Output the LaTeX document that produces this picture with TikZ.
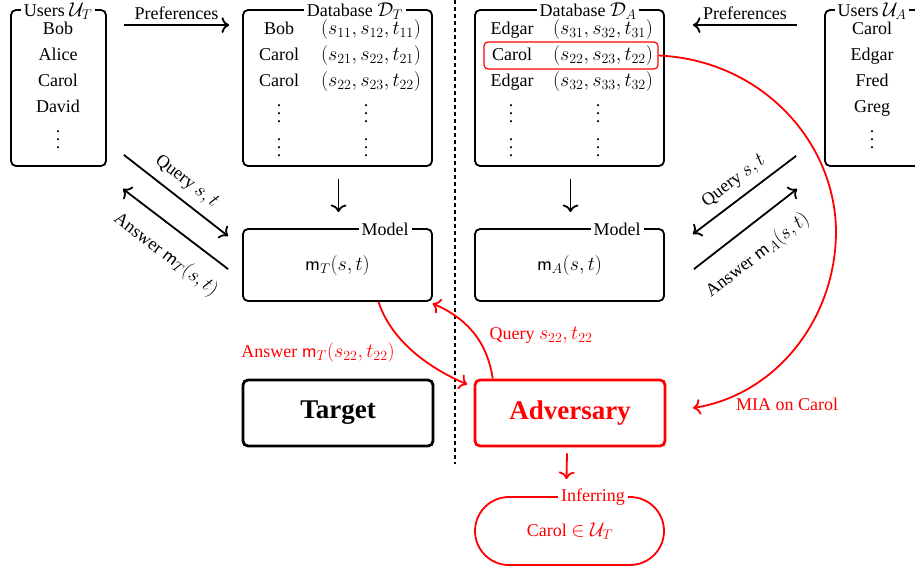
\RequirePackage{fix-cm}
\documentclass[tikz,border=0pt]{standalone}
\usepackage{amsmath}
\usepackage{amssymb}
\usepackage{fontspec}
\setmainfont{Liberation Serif}
\DeclareMathSizes{18}{20}{14}{11}
\usetikzlibrary{arrows.meta}

% dots for the lists, spaced for the big font
\newcommand{\listdots}{\vbox{\baselineskip=8pt\lineskiplimit=0pt\hbox{.}\hbox{.}\hbox{.}}}

\begin{document}
\begin{tikzpicture}[x=1pt,y=-1pt,->,>={To[scale=1.35]},line width=1.8pt,
	font=\fontsize{18}{21}\selectfont,
	box/.style={draw,rounded corners=5pt,line width=1.8pt,minimum width=189pt,inner sep=0pt},
	title/.style={fill=white,inner sep=3pt},
	row/.style={text height=13pt,text depth=4pt,inner sep=0pt},
	big box/.style={draw,rounded corners=5pt,line width=2.8pt,minimum width=190pt,
		minimum height=66pt,font=\fontsize{27}{32}\selectfont\bfseries}]
	
	\useasboundingbox (0,0) rectangle (915,571);
	
	% target side
	\node[box,minimum width=95pt,minimum height=156pt] (uT) at (58.5,88) {};
	\node[title] (uTt) at (58,11) {Users $\mathcal{U}_T$};
	\node[row] (uT1) at (58,29.5) {Bob};
	\node[row] (uT2) at (58,55.5) {Alice};
	\node[row] (uT3) at (58,81.5) {Carol};
	\node[row] (uT4) at (58,107.5) {David};
	\node (uT5) at (58,140) {\listdots};
	
	\node[box,minimum height=156pt] (dT) at (337.5,88) {};
	\node[title] (dTt) at (355,11) {Database $\mathcal{D}_T$};
	\node[row] (dT1) at (279,29.5) {Bob};
	\node[row] (dT1v) at (371,29.5) {$(s_{11},s_{12},t_{11})$};
	\node[row] (dT2) at (279,55.5) {Carol};
	\node[row] (dT2v) at (371,55.5) {$(s_{21},s_{22},t_{21})$};
	\node[row] (dT3) at (279,81.5) {Carol};
	\node[row] (dT3v) at (371,81.5) {$(s_{22},s_{23},t_{22})$};
	\node (dT4) at (279,114) {\listdots};
	\node (dT4v) at (366,114) {\listdots};
	\node (dT5) at (279,148) {\listdots};
	\node (dT5v) at (366,148) {\listdots};
	
	\node[box,minimum height=72pt] (mT) at (337.5,265) {};
	\node[title] (mTt) at (385,229) {Model};
	\node (mTf) at (337.5,265) {$\mathsf{m}_T(s,t)$};
	
	\node[big box] (tg) at (338,413) {Target};
	
	% adversary side
	\node[box,minimum height=156pt] (dA) at (569.5,88) {};
	\node[title] (dAt) at (588,11) {Database $\mathcal{D}_A$};
	\node[row] (dA1) at (512,29.5) {Edgar};
	\node[row] (dA1v) at (603,29.5) {$(s_{31},s_{32},t_{31})$};
	\node[row] (dA2) at (512,55.5) {Carol};
	\node[row] (dA2v) at (603,55.5) {$(s_{22},s_{23},t_{22})$};
	\node[row] (dA3) at (512,81.5) {Edgar};
	\node[row] (dA3v) at (603,81.5) {$(s_{32},s_{33},t_{32})$};
	\node (dA4) at (511,114) {\listdots};
	\node (dA4v) at (598,114) {\listdots};
	\node (dA5) at (511,148) {\listdots};
	\node (dA5v) at (598,148) {\listdots};
	\node[draw=red,rounded corners=4pt,line width=1.2pt,minimum width=174pt,minimum height=27pt] (hl) at (571,55.5) {};
	
	\node[box,minimum width=95pt,minimum height=156pt] (uA) at (872.5,88) {};
	\node[title] (uAt) at (872,11) {Users $\mathcal{U}_A$};
	\node[row] (uA1) at (872,29.5) {Carol};
	\node[row] (uA2) at (872,55.5) {Edgar};
	\node[row] (uA3) at (872,81.5) {Fred};
	\node[row] (uA4) at (872,107.5) {Greg};
	\node (uA5) at (872,140) {\listdots};
	
	\node[box,minimum height=72pt] (mA) at (569.5,265) {};
	\node[title] (mAt) at (617,229) {Model};
	\node (mAf) at (569.5,265) {$\mathsf{m}_A(s,t)$};
	
	\node[big box,draw=red,text=red] (adv) at (570,413) {Adversary};
	
	\node[box,draw=red,rounded corners=34pt,minimum height=68pt] (inf) at (569.5,531) {};
	\node[title,text=red] (inft) at (593,497) {Inferring};
	\node[text=red] (inff) at (570,531) {Carol $\in\mathcal{U}_T$};
	
	% divider
	\draw[-,dashed,dash pattern=on 4pt off 3pt,line width=1.5pt] (455,0) -- (455,464);
	
	% black arrows
	\draw ([shift={(17,16)}]uT.north east) -- node[above=1pt] {Preferences} ([shift={(-13,16)}]dT.north west);
	\draw ([shift={(-27,16)}]uA.north west) -- node[above=1pt] {Preferences} ([shift={(28,16)}]dA.north east);
	\draw ([shift={(1,12)}]dT.south) -- ([shift={(1,-16)}]mT.north);
	\draw ([shift={(1,12)}]dA.south) -- ([shift={(1,-16)}]mA.north);
	
	\draw ([shift={(17,-12)}]uT.south east) -- node[sloped,above=5pt] {Query $s,t$} ([shift={(-14,8)}]mT.north west);
	\draw[<-] ([shift={(16,22)}]uT.south east) -- node[pos=0.56,sloped,below=12pt] {Answer $\mathsf{m}_T(s,t)$} ([shift={(-14,41)}]mT.north west);
	\draw[<-] ([shift={(28,6)}]mA.north east) -- node[sloped,above=5pt] {Query $s,t$} ([shift={(-28,-11)}]uA.south west);
	\draw ([shift={(29,41)}]mA.north east) -- node[pos=0.45,sloped,below=14pt] {Answer $\mathsf{m}_A(s,t)$} ([shift={(-27,22)}]uA.south west);
	
	% red arrows
	\draw[red,shorten >=7pt] (mT.-42) .. controls +(15,45) and +(-35,-15) .. (adv.165);
	\draw[red,shorten >=4pt] (adv.156) .. controls +(-6,-40) and +(35,15) .. (mT.-22);
	\coordinate (miaEnd) at (693,408);
	\draw[red] (hl.east) .. controls (760,60) and (835,140) .. (836,231) .. controls (836,320) and (775,395) .. (miaEnd);
	\draw[red] ([shift={(-3,6)}]adv.south) -- ([shift={(-3,-17)}]inf.north);
	
	\node[text=red] (ansRed) at (318,352) {Answer $\mathsf{m}_T(s_{22},t_{22})$};
	\node[text=red] (qRed) at (541,335) {Query $s_{22},t_{22}$};
	\node[text=red] (mia) at (787,404) {MIA on Carol};
\end{tikzpicture}
\end{document}
